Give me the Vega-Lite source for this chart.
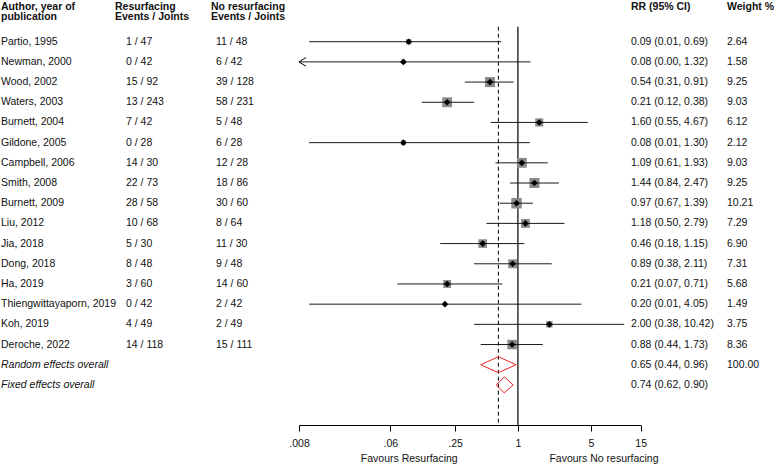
{
  "$schema": "https://vega.github.io/schema/vega-lite/v6.json",
  "width": 778,
  "height": 425,
  "autosize": {"type": "none"},
  "padding": {"left": 0, "top": 0, "right": 0, "bottom": 41},
  "background": "white",
  "config": {
    "view": {"stroke": null},
    "font": "Liberation Sans",
    "text": {"font": "Liberation Sans", "fontSize": 10.5, "color": "#111111", "baseline": "middle", "align": "left"}
  },
  "datasets": {
    "studies": [
      {"row": 0, "author": "Partio, 1995", "res": "1 / 47", "nores": "11 / 48", "rr": 0.09, "lo": 0.01, "hi": 0.69, "w": 2.64, "ci": "0.09 (0.01, 0.69)", "wt": "2.64"},
      {"row": 1, "author": "Newman, 2000", "res": "0 / 42", "nores": "6 / 42", "rr": 0.08, "lo": 0.004, "hi": 1.32, "w": 1.58, "ci": "0.08 (0.00, 1.32)", "wt": "1.58"},
      {"row": 2, "author": "Wood, 2002", "res": "15 / 92", "nores": "39 / 128", "rr": 0.54, "lo": 0.31, "hi": 0.91, "w": 9.25, "ci": "0.54 (0.31, 0.91)", "wt": "9.25"},
      {"row": 3, "author": "Waters, 2003", "res": "13 / 243", "nores": "58 / 231", "rr": 0.21, "lo": 0.12, "hi": 0.38, "w": 9.03, "ci": "0.21 (0.12, 0.38)", "wt": "9.03"},
      {"row": 4, "author": "Burnett, 2004", "res": "7 / 42", "nores": "5 / 48", "rr": 1.60, "lo": 0.55, "hi": 4.67, "w": 6.12, "ci": "1.60 (0.55, 4.67)", "wt": "6.12"},
      {"row": 5, "author": "Gildone, 2005", "res": "0 / 28", "nores": "6 / 28", "rr": 0.08, "lo": 0.01, "hi": 1.30, "w": 2.12, "ci": "0.08 (0.01, 1.30)", "wt": "2.12"},
      {"row": 6, "author": "Campbell, 2006", "res": "14 / 30", "nores": "12 / 28", "rr": 1.09, "lo": 0.61, "hi": 1.93, "w": 9.03, "ci": "1.09 (0.61, 1.93)", "wt": "9.03"},
      {"row": 7, "author": "Smith, 2008", "res": "22 / 73", "nores": "18 / 86", "rr": 1.44, "lo": 0.84, "hi": 2.47, "w": 9.25, "ci": "1.44 (0.84, 2.47)", "wt": "9.25"},
      {"row": 8, "author": "Burnett, 2009", "res": "28 / 58", "nores": "30 / 60", "rr": 0.97, "lo": 0.67, "hi": 1.39, "w": 10.21, "ci": "0.97 (0.67, 1.39)", "wt": "10.21"},
      {"row": 9, "author": "Liu, 2012", "res": "10 / 68", "nores": "8 / 64", "rr": 1.18, "lo": 0.50, "hi": 2.79, "w": 7.29, "ci": "1.18 (0.50, 2.79)", "wt": "7.29"},
      {"row": 10, "author": "Jia, 2018", "res": "5 / 30", "nores": "11 / 30", "rr": 0.46, "lo": 0.18, "hi": 1.15, "w": 6.90, "ci": "0.46 (0.18, 1.15)", "wt": "6.90"},
      {"row": 11, "author": "Dong, 2018", "res": "8 / 48", "nores": "9 / 48", "rr": 0.89, "lo": 0.38, "hi": 2.11, "w": 7.31, "ci": "0.89 (0.38, 2.11)", "wt": "7.31"},
      {"row": 12, "author": "Ha, 2019", "res": "3 / 60", "nores": "14 / 60", "rr": 0.21, "lo": 0.07, "hi": 0.71, "w": 5.68, "ci": "0.21 (0.07, 0.71)", "wt": "5.68"},
      {"row": 13, "author": "Thiengwittayaporn, 2019", "res": "0 / 42", "nores": "2 / 42", "rr": 0.20, "lo": 0.01, "hi": 4.05, "w": 1.49, "ci": "0.20 (0.01, 4.05)", "wt": "1.49"},
      {"row": 14, "author": "Koh, 2019", "res": "4 / 49", "nores": "2 / 49", "rr": 2.00, "lo": 0.38, "hi": 10.42, "w": 3.75, "ci": "2.00 (0.38, 10.42)", "wt": "3.75"},
      {"row": 15, "author": "Deroche, 2022", "res": "14 / 118", "nores": "15 / 111", "rr": 0.88, "lo": 0.44, "hi": 1.73, "w": 8.36, "ci": "0.88 (0.44, 1.73)", "wt": "8.36"}
    ],
    "pooled": [
      {"row": 16, "author": "Random effects overall", "rr": 0.65, "lo": 0.44, "hi": 0.96, "ci": "0.65 (0.44, 0.96)", "wt": "100.00"},
      {"row": 17, "author": "Fixed effects overall", "rr": 0.74, "lo": 0.62, "hi": 0.90, "ci": "0.74 (0.62, 0.90)", "wt": ""}
    ],
    "headers": [
      {"col": 0, "l1": "Author, year of", "l2": "publication"},
      {"col": 1, "l1": "Resurfacing", "l2": "Events / Joints"},
      {"col": 2, "l1": "No resurfacing", "l2": "Events / Joints"},
      {"col": 3, "l1": "RR (95% CI)", "l2": ""},
      {"col": 4, "l1": "Weight %", "l2": ""}
    ],
    "one": [{}]
  },
  "resolve": {"scale": {"x": "independent"}, "axis": {"x": "independent"}},
  "layer": [
    {
      "layer": [
        {
          "data": {"name": "headers"},
          "mark": {"type": "text", "fontWeight": "bold"},
          "encoding": {
            "x": {"field": "col", "type": "quantitative", "scale": {"domain": [0, 1, 2, 3, 4], "range": [1, 115, 211, 631, 727], "nice": false, "zero": false}, "axis": null},
            "y": {"datum": -1.74, "type": "quantitative", "scale": {"domain": [-2.065, 18.985], "reverse": true, "nice": false, "zero": false}, "axis": null},
            "text": {"field": "l1"}
          }
        },
        {
          "data": {"name": "headers"},
          "mark": {"type": "text", "fontWeight": "bold"},
          "encoding": {
            "x": {"field": "col", "type": "quantitative"},
            "y": {"datum": -1.2, "type": "quantitative"},
            "text": {"field": "l2"}
          }
        },
        {
          "data": {"name": "studies"},
          "mark": {"type": "text"},
          "encoding": {"x": {"datum": 0, "type": "quantitative"}, "y": {"field": "row", "type": "quantitative"}, "text": {"field": "author"}}
        },
        {
          "data": {"name": "pooled"},
          "mark": {"type": "text", "fontStyle": "italic"},
          "encoding": {"x": {"datum": 0, "type": "quantitative"}, "y": {"field": "row", "type": "quantitative"}, "text": {"field": "author"}}
        },
        {
          "data": {"name": "studies"},
          "mark": {"type": "text", "dx": 11},
          "encoding": {"x": {"datum": 1, "type": "quantitative"}, "y": {"field": "row", "type": "quantitative"}, "text": {"field": "res"}}
        },
        {
          "data": {"name": "studies"},
          "mark": {"type": "text", "dx": 5},
          "encoding": {"x": {"datum": 2, "type": "quantitative"}, "y": {"field": "row", "type": "quantitative"}, "text": {"field": "nores"}}
        },
        {
          "data": {"name": "studies"},
          "mark": {"type": "text"},
          "encoding": {"x": {"datum": 3, "type": "quantitative"}, "y": {"field": "row", "type": "quantitative"}, "text": {"field": "ci"}}
        },
        {
          "data": {"name": "pooled"},
          "mark": {"type": "text"},
          "encoding": {"x": {"datum": 3, "type": "quantitative"}, "y": {"field": "row", "type": "quantitative"}, "text": {"field": "ci"}}
        },
        {
          "data": {"name": "studies"},
          "mark": {"type": "text"},
          "encoding": {"x": {"datum": 4, "type": "quantitative"}, "y": {"field": "row", "type": "quantitative"}, "text": {"field": "wt"}}
        },
        {
          "data": {"name": "pooled"},
          "mark": {"type": "text"},
          "encoding": {"x": {"datum": 4, "type": "quantitative"}, "y": {"field": "row", "type": "quantitative"}, "text": {"field": "wt"}}
        }
      ]
    },
    {
      "layer": [
        {
          "data": {"name": "one"},
          "mark": {"type": "rule", "color": "#000000", "strokeWidth": 1.2},
          "encoding": {
            "x": {"datum": 1, "type": "quantitative", "scale": {"type": "log", "domain": [0.008, 15], "range": [299, 640.7], "nice": false, "clamp": true},
              "axis": {"orient": "bottom", "values": [0.008, 0.06, 0.25, 1, 5, 15], "labelExpr": "replace(toString(datum.value), '0.', '.')", "title": null, "grid": false, "domainColor": "#000000", "domainWidth": 1, "tickColor": "#000000", "tickWidth": 1, "tickSize": 6, "labelFont": "Liberation Sans", "labelFontSize": 10.5, "labelColor": "#111111", "labelPadding": 7, "labelFlush": false, "labelOverlap": false}},
            "y": {"datum": -0.743, "type": "quantitative"},
            "y2": {"datum": 18.985}
          }
        },
        {
          "data": {"name": "one"},
          "mark": {"type": "rule", "color": "#000000", "strokeWidth": 1, "strokeDash": [4, 3]},
          "encoding": {
            "x": {"datum": 0.65, "type": "quantitative"},
            "y": {"datum": -0.743, "type": "quantitative"},
            "y2": {"datum": 18.985}
          }
        },
        {
          "data": {"name": "studies"},
          "mark": {"type": "point", "shape": "square", "filled": true, "color": "#8a8a8a", "opacity": 1},
          "encoding": {
            "x": {"field": "rr", "type": "quantitative"},
            "y": {"field": "row", "type": "quantitative"},
            "size": {"field": "w", "type": "quantitative", "scale": {"domain": [0, 10], "range": [0, 108]}, "legend": null}
          }
        },
        {
          "data": {"name": "studies"},
          "mark": {"type": "rule", "color": "#1a1a1a", "strokeWidth": 1},
          "encoding": {
            "x": {"field": "lo", "type": "quantitative"},
            "x2": {"field": "hi"},
            "y": {"field": "row", "type": "quantitative"}
          }
        },
        {
          "data": {"name": "studies"},
          "mark": {"type": "point", "shape": "diamond", "filled": true, "color": "#000000", "opacity": 1, "size": 44},
          "encoding": {
            "x": {"field": "rr", "type": "quantitative"},
            "y": {"field": "row", "type": "quantitative"}
          }
        },
        {
          "data": {"name": "studies"},
          "transform": [{"filter": "datum.lo < 0.008"}],
          "mark": {"type": "point", "shape": "M1.6,-1L0,0L1.6,1", "filled": false, "stroke": "#000000", "strokeWidth": 1, "opacity": 1, "size": 77},
          "encoding": {
            "x": {"field": "lo", "type": "quantitative"},
            "y": {"field": "row", "type": "quantitative"}
          }
        },
        {
          "data": {"name": "pooled"},
          "mark": {"type": "rule", "color": "#ee2222", "strokeWidth": 1, "y2Offset": -8},
          "encoding": {"x": {"field": "lo", "type": "quantitative"}, "x2": {"field": "rr"}, "y": {"field": "row", "type": "quantitative"}, "y2": {"field": "row"}}
        },
        {
          "data": {"name": "pooled"},
          "mark": {"type": "rule", "color": "#ee2222", "strokeWidth": 1, "yOffset": -8},
          "encoding": {"x": {"field": "rr", "type": "quantitative"}, "x2": {"field": "hi"}, "y": {"field": "row", "type": "quantitative"}, "y2": {"field": "row"}}
        },
        {
          "data": {"name": "pooled"},
          "mark": {"type": "rule", "color": "#ee2222", "strokeWidth": 1, "y2Offset": 8},
          "encoding": {"x": {"field": "hi", "type": "quantitative"}, "x2": {"field": "rr"}, "y": {"field": "row", "type": "quantitative"}, "y2": {"field": "row"}}
        },
        {
          "data": {"name": "pooled"},
          "mark": {"type": "rule", "color": "#ee2222", "strokeWidth": 1, "yOffset": 8},
          "encoding": {"x": {"field": "rr", "type": "quantitative"}, "x2": {"field": "lo"}, "y": {"field": "row", "type": "quantitative"}, "y2": {"field": "row"}}
        },
        {
          "data": {"name": "one"},
          "mark": {"type": "text", "align": "center", "text": "Favours Resurfacing"},
          "encoding": {"x": {"datum": 0.091, "type": "quantitative"}, "y": {"datum": 20.68, "type": "quantitative"}}
        },
        {
          "data": {"name": "one"},
          "mark": {"type": "text", "align": "center", "text": "Favours No resurfacing"},
          "encoding": {"x": {"datum": 6.67, "type": "quantitative"}, "y": {"datum": 20.68, "type": "quantitative"}}
        }
      ]
    }
  ]
}
